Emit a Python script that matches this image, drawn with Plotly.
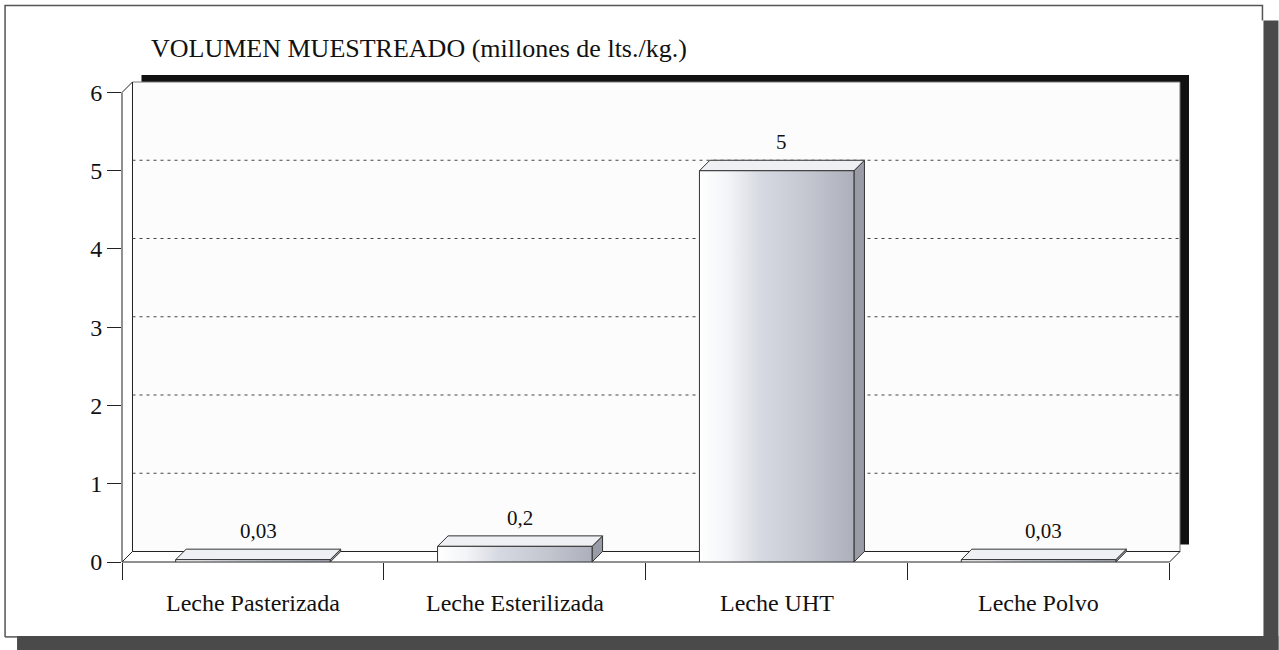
import plotly.graph_objects as go

# ---- data ----
categories = ["Leche Pasterizada", "Leche Esterilizada", "Leche UHT", "Leche Polvo"]
values = [0.03, 0.2, 5, 0.03]
value_labels = ["0,03", "0,2", "5", "0,03"]
y_ticks = [0, 1, 2, 3, 4, 5, 6]
title_text = "VOLUMEN MUESTREADO (millones de lts./kg.)"

# ---- geometry (pixels) ----
W, H = 1279, 650
X0, X1 = 122, 1170      # front floor left/right
Y0, Y6 = 562, 92        # front y of value 0 and 6
D = 10.5                # 3D depth offset in px
ux = (X1 - X0) / 4.0    # px per category unit
uy = (Y0 - Y6) / 6.0    # px per value unit
dxu = D / ux
dyu = D / uy
PW = (X1 + D) - X0
PH = Y0 - (Y6 - D)


def px(p):
    return (p - X0) / PW


def py(p):
    return (Y0 - p) / PH


FONT = "Liberation Serif, Times New Roman, serif"
LINE = "#222222"

fig = go.Figure()
shapes = []

# outer frame
shapes.append(dict(type="path", xref="paper", yref="paper",
                   path=f"M{px(5)},{py(637)} L{px(5)},{py(5)} L{px(1263)},{py(5)} L{px(1263)},{py(20)}",
                   line=dict(color="#555555", width=1.5)))
shapes.append(dict(type="line", xref="paper", yref="paper", x0=px(5), x1=px(17), y0=py(637), y1=py(637),
                   line=dict(color="#555555", width=1.5)))
shapes.append(dict(type="rect", xref="paper", yref="paper", x0=px(1264), x1=px(1279), y0=py(20), y1=py(650),
                   fillcolor="#4a4a4a", line=dict(width=0)))
shapes.append(dict(type="rect", xref="paper", yref="paper", x0=px(17), x1=px(1279), y0=py(636), y1=py(650),
                   fillcolor="#4a4a4a", line=dict(width=0)))

# back wall shadow + wall
shapes.append(dict(type="rect", xref="paper", yref="paper", layer="below",
                   x0=px(X0 + D + 9), x1=px(X1 + D + 9), y0=py(Y0 - D - 7), y1=py(Y6 - D - 7),
                   fillcolor="#111111", line=dict(width=0)))
shapes.append(dict(type="rect", xref="paper", yref="paper", layer="below",
                   x0=px(X0 + D), x1=px(X1 + D), y0=py(Y0 - D), y1=py(Y6 - D),
                   fillcolor="#fcfcfc", line=dict(color="#777777", width=1)))
# left side panel
shapes.append(dict(type="path", xref="paper", yref="paper", layer="below",
                   path=f"M{px(X0)},{py(Y0)} L{px(X0)},{py(Y6)} L{px(X0 + D)},{py(Y6 - D)} L{px(X0 + D)},{py(Y0 - D)} Z",
                   fillcolor="#ffffff", line=dict(color=LINE, width=1)))
# floor
shapes.append(dict(type="path", xref="paper", yref="paper", layer="below",
                   path=f"M{px(X0)},{py(Y0)} L{px(X1)},{py(Y0)} L{px(X1 + D)},{py(Y0 - D)} L{px(X0 + D)},{py(Y0 - D)} Z",
                   fillcolor="#ffffff", line=dict(color=LINE, width=1)))

# dashed gridlines on back wall (data coordinates)
for t in y_ticks[1:-1]:
    shapes.append(dict(type="line", xref="x", yref="y", layer="below",
                       x0=-0.5 + dxu, x1=3.5 + dxu, y0=t + dyu, y1=t + dyu,
                       line=dict(color="#444444", width=1, dash="3px,4px")))

# 3D bars
w = 0.295
for i, v in enumerate(values):
    # side face
    fig.add_trace(go.Scatter(
        x=[i + w, i + w + dxu, i + w + dxu, i + w, i + w],
        y=[0, dyu, v + dyu, v, 0],
        mode="lines", fill="toself", fillcolor="#999ca7",
        line=dict(color="#333333", width=1), hoverinfo="skip", showlegend=False))
    # top face
    fig.add_trace(go.Scatter(
        x=[i - w, i + w, i + w + dxu, i - w + dxu, i - w],
        y=[v, v, v + dyu, v + dyu, v],
        mode="lines", fill="toself", fillcolor="#eef0f3",
        line=dict(color="#333333", width=1), hoverinfo="skip", showlegend=False))
    # front face
    fig.add_trace(go.Scatter(
        x=[i - w, i + w, i + w, i - w, i - w],
        y=[0, 0, v, v, 0],
        mode="lines", fill="toself",
        fillgradient=dict(type="horizontal",
                          colorscale=[[0, "#ffffff"], [0.18, "#f4f5f8"], [0.4, "#d6d9e1"],
                                      [0.7, "#c4c7d0"], [1, "#adb0bb"]]),
        line=dict(color="#333333", width=1), hoverinfo="skip", showlegend=False))

annotations = []
for i, (v, lab) in enumerate(zip(values, value_labels)):
    annotations.append(dict(x=i + dxu / 2, y=v + dyu, xref="x", yref="y", text=lab,
                            showarrow=False, yanchor="bottom", yshift=4,
                            font=dict(family=FONT, size=21, color="#111111")))
for i, c in enumerate(categories):
    annotations.append(dict(x=i, y=py(603), xref="x", yref="paper", text=c, showarrow=False,
                            yanchor="middle", font=dict(family=FONT, size=24, color="#111111")))
annotations.append(dict(x=px(149), y=py(48), xref="paper", yref="paper", text=title_text,
                        showarrow=False, xanchor="left", yanchor="middle",
                        font=dict(family=FONT, size=26, color="#111111")))

fig.update_layout(
    width=W, height=H,
    margin=dict(l=X0, r=W - (X1 + D), t=Y6 - D, b=H - Y0, pad=0),
    paper_bgcolor="#ffffff", plot_bgcolor="#ffffff",
    showlegend=False,
    shapes=shapes, annotations=annotations,
    xaxis=dict(range=[-0.5, 3.5 + dxu], tickmode="array", tickvals=[-0.5, 0.5, 1.5, 2.5, 3.5],
               ticks="outside", ticklen=17, tickwidth=1, tickcolor=LINE,
               showticklabels=False, showgrid=False, zeroline=False, showline=False, fixedrange=True),
    yaxis=dict(range=[0, 6 + dyu], tickmode="array", tickvals=y_ticks,
               ticktext=[str(t) for t in y_ticks],
               ticks="outside", ticklen=14, tickwidth=1, tickcolor=LINE,
               tickfont=dict(family=FONT, size=24, color="#111111"),
               showgrid=False, zeroline=False, showline=False, fixedrange=True),
)

fig.write_html("out.html", post_script="document.body.style.margin='0';document.body.style.overflow='hidden';",
               config={"displayModeBar": False})
